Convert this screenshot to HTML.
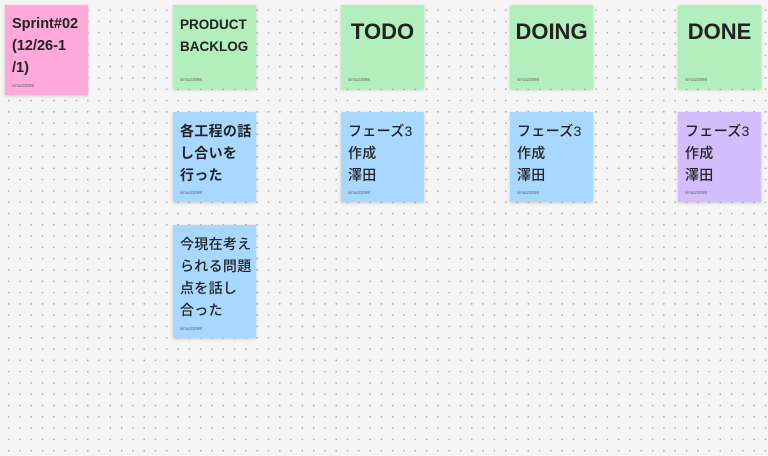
<!DOCTYPE html>
<html><head><meta charset="utf-8"><style>
html,body{margin:0;padding:0}
body{width:768px;height:456px;overflow:hidden;background-color:#f5f5f5;
background-image:radial-gradient(circle,#a8a8a8 0.7px,transparent 1px);
background-size:11.3px 11.3px;background-position:3px 4.5px;
font-family:"Liberation Sans","Noto Sans CJK JP",sans-serif;position:relative}
.n{position:absolute;width:83px;box-shadow:0 1px 3px rgba(0,0,0,.18);color:#222;box-sizing:border-box;padding:8px 0 0 7px}
.n .a{position:absolute;left:7px;bottom:7px;font-size:4.5px;line-height:5px;color:#666;font-weight:normal;letter-spacing:0}
.g{background:#b2efbd}.b{background:#a8d8ff}.p{background:#ffa8da}.v{background:#d3bdfd}
.t{font-weight:bold;font-size:14px;line-height:22px}
.big{font-weight:bold;font-size:22px;text-align:center;padding:14px 0 0 0}
.j{font-size:14px;line-height:22px;font-weight:500;letter-spacing:0.3px}
</style></head><body>
<div class="n p t" style="left:5px;top:5px;height:90px;font-size:14.5px;padding-top:8px">Sprint#02<br>(12/26-1<br>/1)<div class="a">sima23098</div></div>
<div class="n g t" style="left:173px;top:5px;height:84px;font-size:13.5px;padding-top:9px">PRODUCT<br>BACKLOG<div class="a">sima23098</div></div>
<div class="n g big" style="left:341px;top:5px;height:84px">TODO<div class="a">sima23098</div></div>
<div class="n g big" style="left:510px;top:5px;height:84px">DOING<div class="a">sima23098</div></div>
<div class="n g big" style="left:678px;top:5px;height:84px">DONE<div class="a">sima23098</div></div>
<div class="n b j" style="left:173px;top:112px;height:90px;font-weight:bold">各工程の話<br>し合いを<br>行った<div class="a">sima23098</div></div>
<div class="n b j" style="left:173px;top:225px;height:113px">今現在考え<br>られる問題<br>点を話し<br>合った<div class="a">sima23098</div></div>
<div class="n b j" style="left:341px;top:112px;height:90px">フェーズ3<br>作成<br>澤田<div class="a">sima23098</div></div>
<div class="n b j" style="left:510px;top:112px;height:90px">フェーズ3<br>作成<br>澤田<div class="a">sima23098</div></div>
<div class="n v j" style="left:678px;top:112px;height:90px">フェーズ3<br>作成<br>澤田<div class="a">sima23098</div></div>
</body></html>
